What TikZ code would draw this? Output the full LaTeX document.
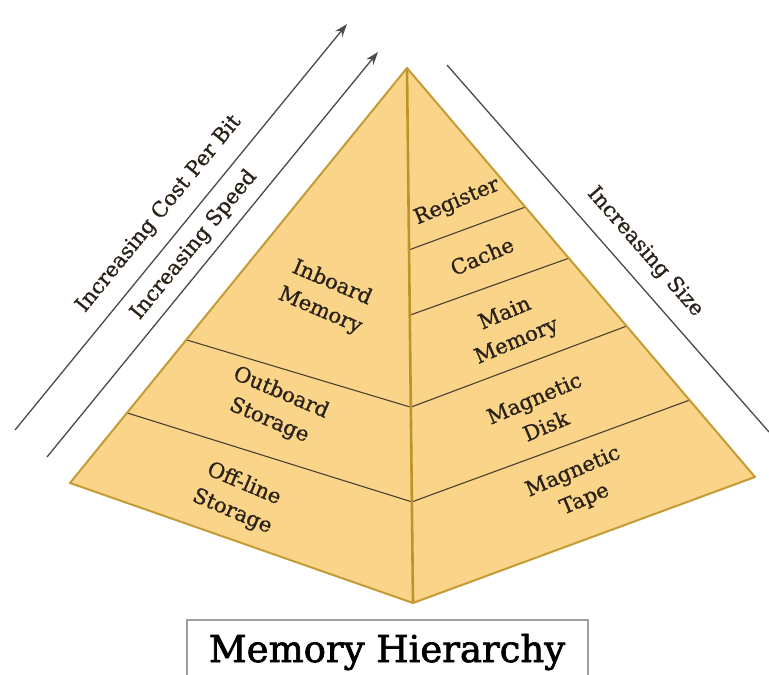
\documentclass[tikz,border=0pt]{standalone}
\usepackage{fontspec}
\setmainfont{DejaVu Serif}
\newfontfamily\labelfont{DejaVu Serif}[FakeBold=0.9]
\newfontfamily\titlefont{DejaVu Serif}[FakeBold=1.8]
\usetikzlibrary{arrows.meta,calc}
\definecolor{face}{HTML}{FAD489}
\definecolor{rim}{HTML}{C49B34}
\definecolor{spine}{HTML}{BE9428}
\definecolor{band}{HTML}{4B4030}
\definecolor{guide}{HTML}{4A4A4A}
\definecolor{frame}{HTML}{A0A0A0}
\definecolor{ink}{HTML}{2A2218}
\begin{document}
\begin{tikzpicture}[x=1pt,y=-1pt,
  lbl/.style={font=\labelfont\fontsize{21}{30}\selectfont, align=center, inner sep=0pt, text=ink},
  sidelbl/.style={font=\labelfont\fontsize{21}{25}\selectfont, inner sep=0pt, text=ink},
  guideline/.style={draw=guide, line width=1.3pt},
  tip/.style={-{Stealth[length=13pt,width=9pt]}},
  bandline/.style={draw=band, line width=1.1pt}
]
\useasboundingbox (0,0) rectangle (769,675);

% pyramid corners
\coordinate (apex) at (407,68);
\coordinate (L) at (70,483);
\coordinate (R) at (755,477);
\coordinate (B) at (413,603);

\fill[face] (apex) -- (L) -- (B) -- (R) -- cycle;

% left face bands
\draw[bandline] ($(apex)!0.655!(L)$) -- ($(apex)!0.634!(B)$);
\draw[bandline] ($(apex)!0.831!(L)$) -- ($(apex)!0.811!(B)$);
% right face bands
\draw[bandline] ($(apex)!0.340!(B)$) -- ($(apex)!0.340!(R)$);
\draw[bandline] ($(apex)!0.462!(B)$) -- ($(apex)!0.465!(R)$);
\draw[bandline] ($(apex)!0.634!(B)$) -- ($(apex)!0.631!(R)$);
\draw[bandline] ($(apex)!0.811!(B)$) -- ($(apex)!0.812!(R)$);

% outline and middle edge
\draw[spine, line width=2.6pt] (apex) -- (B);
\draw[rim, line width=2pt, line join=round] (apex) -- (L) -- (B) -- (R) -- cycle;

% left face labels
\node[lbl, rotate=-23] (inboard) at (326,297) {Inboard\\Memory};
\node[lbl, rotate=-23] (outboard) at (275,407) {Outboard\\Storage};
\node[lbl, rotate=-23] (offline) at (238,498) {Off-line\\Storage};
% right face labels
\node[lbl, rotate=23] (register) at (457,202) {Register};
\node[lbl, rotate=23] (cache) at (482,256) {Cache};
\node[lbl, rotate=23] (mainmem) at (511,328) {Main\\Memory};
\node[lbl, rotate=23] (disk) at (540,412) {Magnetic\\Disk};
\node[lbl, rotate=23] (tape) at (579,486) {Magnetic\\Tape};

% trend arrows
\coordinate (c0) at (15,430);
\coordinate (c1) at (347,24);
\coordinate (s0) at (47,457);
\coordinate (s1) at (378,52);
\coordinate (z0) at (447,65);
\coordinate (z1) at (769,432);
\draw[guideline, tip] (c0) -- (c1);
\draw[guideline, tip] (s0) -- (s1);
\draw[guideline] (z0) -- (z1);
\node[sidelbl, rotate=50.7] (cost) at (159,214) {Increasing Cost Per Bit};
\node[sidelbl, rotate=50.7] (speed) at (194,245) {Increasing Speed};
\node[sidelbl, rotate=-48.8] (size) at (645,252) {Increasing Size};

% caption box
\draw[frame, line width=1.3pt] (187,676) -- (187,620) -- (588,620) -- (588,676);
\node[font=\titlefont\fontsize{37}{40}\selectfont, anchor=base, inner sep=0pt, text=black] (title) at (387,662) {Memory Hierarchy};
\end{tikzpicture}
\end{document}
